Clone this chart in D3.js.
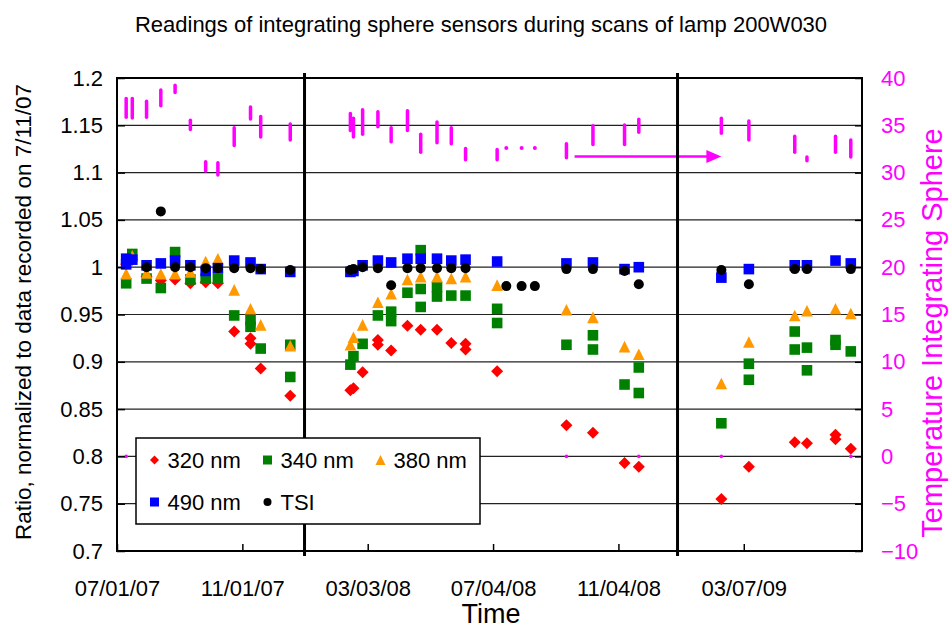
<!DOCTYPE html>
<html>
<head>
<meta charset="utf-8">
<script src="https://cdn.jsdelivr.net/npm/d3@7"></script>
<style>
  body { margin: 0; background: #fff; }
  svg { display: block; font-family: "Liberation Sans", Arial, sans-serif; }
</style>
</head>
<body>
<div id="chart"></div>
<script>
// --- data ---
const xTickLabels = ['07/01/07', '11/01/07', '03/03/08', '07/04/08', '11/04/08', '03/07/09'];
const yTicks = [0.7, 0.75, 0.8, 0.85, 0.9, 0.95, 1, 1.05, 1.1, 1.15, 1.2];
const tempTicks = [-10, -5, 0, 5, 10, 15, 20, 25, 30, 35, 40];
const lampBreaks = ['2008-01-01', '2009-01-01'];
const seriesNames = ['320 nm', '340 nm', '380 nm', '490 nm', 'TSI'];

const nm320 = [
  ['2007-07-10', 1.003], ['2007-07-16', 1.008], ['2007-07-30', 0.990], ['2007-08-13', 0.986],
  ['2007-08-27', 0.987], ['2007-09-11', 0.983], ['2007-09-26', 0.984], ['2007-10-08', 0.983],
  ['2007-10-24', 0.932], ['2007-11-09', 0.925], ['2007-11-09', 0.919], ['2007-11-19', 0.893],
  ['2007-12-18', 0.864],
  ['2008-02-15', 0.870], ['2008-02-18', 0.872], ['2008-02-27', 0.889], ['2008-03-13', 0.923],
  ['2008-03-13', 0.918], ['2008-03-26', 0.912], ['2008-04-11', 0.938], ['2008-04-24', 0.934],
  ['2008-05-10', 0.934], ['2008-05-24', 0.920], ['2008-06-07', 0.919], ['2008-06-07', 0.913],
  ['2008-07-08', 0.890], ['2008-09-14', 0.833], ['2008-10-10', 0.825], ['2008-11-10', 0.793],
  ['2008-11-24', 0.789],
  ['2009-02-13', 0.755], ['2009-03-12', 0.789], ['2009-04-26', 0.815], ['2009-05-08', 0.814],
  ['2009-06-05', 0.823], ['2009-06-05', 0.818], ['2009-06-20', 0.808],
];
const nm340 = [
  ['2007-07-10', 0.983], ['2007-07-16', 1.014], ['2007-07-30', 0.988], ['2007-08-13', 0.978],
  ['2007-08-27', 1.016], ['2007-09-11', 0.987], ['2007-09-26', 0.988], ['2007-10-08', 0.988],
  ['2007-10-24', 0.949], ['2007-11-09', 0.944], ['2007-11-09', 0.937], ['2007-11-19', 0.914],
  ['2007-12-18', 0.918], ['2007-12-18', 0.884],
  ['2008-02-15', 0.897], ['2008-02-18', 0.906], ['2008-02-27', 0.919], ['2008-03-13', 0.949],
  ['2008-03-26', 0.953], ['2008-03-26', 0.943], ['2008-04-11', 0.973], ['2008-04-24', 1.018],
  ['2008-04-24', 0.977], ['2008-04-24', 0.958], ['2008-05-10', 0.979], ['2008-05-10', 0.969],
  ['2008-05-24', 0.970], ['2008-06-07', 0.970], ['2008-07-08', 0.956], ['2008-07-08', 0.941],
  ['2008-09-14', 0.918], ['2008-10-10', 0.928], ['2008-10-10', 0.913], ['2008-11-10', 0.876],
  ['2008-11-24', 0.894], ['2008-11-24', 0.867],
  ['2009-02-13', 0.835], ['2009-03-12', 0.898], ['2009-03-12', 0.881], ['2009-04-26', 0.932],
  ['2009-04-26', 0.913], ['2009-05-08', 0.915], ['2009-05-08', 0.891], ['2009-06-05', 0.923],
  ['2009-06-05', 0.918], ['2009-06-20', 0.911],
];
const nm380 = [
  ['2007-07-10', 0.993], ['2007-07-16', 1.012], ['2007-07-30', 0.994], ['2007-08-13', 0.993],
  ['2007-08-27', 0.993], ['2007-09-11', 0.995], ['2007-09-26', 1.006], ['2007-10-08', 1.009],
  ['2007-10-24', 0.976], ['2007-11-09', 0.956], ['2007-11-19', 0.939], ['2007-12-18', 0.917],
  ['2008-02-15', 0.918], ['2008-02-18', 0.926], ['2008-02-27', 0.939], ['2008-03-13', 0.963],
  ['2008-03-26', 0.972], ['2008-04-11', 0.987], ['2008-04-24', 0.990], ['2008-05-10', 0.990],
  ['2008-05-24', 0.988], ['2008-06-07', 0.990], ['2008-07-08', 0.981], ['2008-09-14', 0.955],
  ['2008-10-10', 0.947], ['2008-11-10', 0.916], ['2008-11-24', 0.908],
  ['2009-02-13', 0.877], ['2009-03-12', 0.921], ['2009-04-26', 0.949], ['2009-05-08', 0.954],
  ['2009-06-05', 0.956], ['2009-06-20', 0.951],
];
const nm490 = [
  ['2007-07-10', 1.009], ['2007-07-10', 1.003], ['2007-07-16', 1.008], ['2007-07-30', 1.002],
  ['2007-08-13', 1.004], ['2007-08-27', 1.007], ['2007-09-11', 1.002], ['2007-09-26', 0.996],
  ['2007-10-08', 0.999], ['2007-10-24', 1.007], ['2007-11-09', 1.005], ['2007-11-19', 0.998],
  ['2007-12-18', 0.995],
  ['2008-02-15', 0.995], ['2008-02-18', 0.996], ['2008-02-27', 1.002], ['2008-03-13', 1.007],
  ['2008-03-26', 1.005], ['2008-04-11', 1.009], ['2008-04-24', 1.009], ['2008-05-10', 1.009],
  ['2008-05-24', 1.007], ['2008-06-07', 1.008], ['2008-07-08', 1.006], ['2008-09-14', 1.004],
  ['2008-10-10', 1.005], ['2008-11-10', 0.998], ['2008-11-24', 1.000],
  ['2009-02-13', 0.989], ['2009-03-12', 0.998], ['2009-04-26', 1.002], ['2009-05-08', 1.002],
  ['2009-06-05', 1.007], ['2009-06-20', 1.004],
];
const tsi = [
  ['2007-07-30', 1.000], ['2007-08-13', 1.059], ['2007-08-27', 1.000], ['2007-09-11', 1.000],
  ['2007-09-26', 0.999], ['2007-10-08', 0.999], ['2007-10-24', 0.999], ['2007-11-09', 0.999],
  ['2007-11-19', 0.998], ['2007-12-18', 0.997],
  ['2008-02-15', 0.997], ['2008-02-18', 0.998], ['2008-02-27', 1.000], ['2008-03-13', 0.999],
  ['2008-03-26', 0.981], ['2008-04-11', 0.999], ['2008-04-24', 0.999], ['2008-05-10', 0.999],
  ['2008-05-24', 0.999], ['2008-06-07', 0.999], ['2008-07-17', 0.980], ['2008-08-01', 0.980],
  ['2008-08-14', 0.980], ['2008-09-14', 0.998], ['2008-10-10', 0.998], ['2008-11-10', 0.996],
  ['2008-11-24', 0.982],
  ['2009-02-13', 0.997], ['2009-03-12', 0.982], ['2009-04-26', 0.998], ['2009-05-08', 0.998],
  ['2009-06-20', 0.998],
];
// sphere temperature during each scan: [date, min, max]
const sphereTemp = [
  ['2007-07-10', 35.7, 38.0], ['2007-07-16', 35.6, 38.0], ['2007-07-30', 35.7, 37.7],
  ['2007-08-13', 36.9, 38.9], ['2007-08-27', 38.3, 39.4], ['2007-09-11', 34.4, 35.7],
  ['2007-09-26', 30.0, 31.3], ['2007-10-08', 29.6, 31.2], ['2007-10-24', 32.7, 34.9],
  ['2007-11-09', 35.5, 37.1], ['2007-11-19', 33.6, 36.1], ['2007-12-18', 33.3, 35.3],
  ['2008-02-15', 34.3, 36.4], ['2008-02-18', 33.6, 35.9], ['2008-02-27', 33.9, 36.8],
  ['2008-03-13', 34.7, 36.6], ['2008-03-26', 33.1, 34.9], ['2008-04-11', 34.3, 36.7],
  ['2008-04-24', 32.0, 34.2], ['2008-05-10', 33.0, 35.5], ['2008-05-24', 32.9, 34.9],
  ['2008-06-07', 31.2, 32.7], ['2008-07-08', 31.2, 32.6], ['2008-07-17', 32.6, 32.6],
  ['2008-08-01', 32.6, 32.6], ['2008-08-14', 32.6, 32.6], ['2008-09-14', 31.4, 33.2],
  ['2008-10-10', 32.8, 35.1], ['2008-11-10', 32.8, 35.2], ['2008-11-24', 34.1, 35.8],
  ['2009-02-13', 34.0, 35.9], ['2009-03-12', 33.3, 35.6], ['2009-04-26', 32.0, 34.0],
  ['2009-05-08', 31.1, 31.8], ['2009-06-05', 32.0, 34.0], ['2009-06-20', 31.5, 33.6],
];
// scans where the temperature logger gave 0
const sphereTempZero = ['2007-07-10', '2008-09-14', '2008-11-24', '2009-02-13', '2009-06-20'];
// arrow drawn on the chart
const arrowNote = { from: '2008-09-22', to: '2009-02-13', temp: 31.7 };

// --- layout ---
const width = 950;
const height = 629;
const margin = { top: 78, right: 88, bottom: 78, left: 117 };
const parseDay = d3.timeParse('%Y-%m-%d');
const parseTick = d3.timeParse('%m/%d/%y');
const font = '"Liberation Sans", Arial, sans-serif';

const x = d3.scaleTime()
  .domain([parseDay('2007-07-01'), parseDay('2009-07-01')])
  .range([margin.left, width - margin.right]);
const y = d3.scaleLinear().domain([0.7, 1.2]).range([height - margin.bottom, margin.top]);
const yT = d3.scaleLinear().domain([-10, 40]).range([height - margin.bottom, margin.top]);

const svg = d3.select('#chart').append('svg')
  .attr('width', width)
  .attr('height', height)
  .attr('viewBox', [0, 0, width, height]);

// gridlines
svg.append('g')
  .selectAll('line')
  .data(yTicks.slice(1, -1))
  .join('line')
  .attr('x1', margin.left)
  .attr('x2', width - margin.right)
  .attr('y1', (d) => y(d))
  .attr('y2', (d) => y(d))
  .attr('stroke', '#222')
  .attr('stroke-width', 1.2);

// marker shapes
const shapes = {
  diamond: (s) => `M0,${-s}L${s},0L0,${s}L${-s},0Z`,
  square: (s) => `M${-s},${-s}H${s}V${s}H${-s}Z`,
  triangle: (s) => `M0,${-s}L${s},${s}H${-s}Z`,
  circle: (s) => `M${-s},0A${s},${s} 0 1,0 ${s},0A${s},${s} 0 1,0 ${-s},0Z`,
};
const styles = [
  { data: nm320, shape: 'diamond', color: '#FF0000', size: 6 },
  { data: nm340, shape: 'square', color: '#008000', size: 5.3 },
  { data: nm380, shape: 'triangle', color: '#FF9900', size: 5.8 },
  { data: nm490, shape: 'square', color: '#0000FF', size: 5.3 },
  { data: tsi, shape: 'circle', color: '#000000', size: 5 },
];

styles.forEach((s) => {
  svg.append('g')
    .selectAll('path')
    .data(s.data)
    .join('path')
    .attr('d', shapes[s.shape](s.size))
    .attr('transform', (d) => `translate(${x(parseDay(d[0]))},${y(d[1])})`)
    .attr('fill', s.color);
});

// sphere temperature (secondary axis)
const tempG = svg.append('g');
tempG.selectAll('line')
  .data(sphereTemp.filter((d) => d[1] !== d[2]))
  .join('line')
  .attr('x1', (d) => x(parseDay(d[0])))
  .attr('x2', (d) => x(parseDay(d[0])))
  .attr('y1', (d) => yT(d[1]) - 1.5)
  .attr('y2', (d) => yT(d[2]) + 1.5)
  .attr('stroke', '#FF00FF')
  .attr('stroke-width', 3.5)
  .attr('stroke-linecap', 'round');
tempG.selectAll('circle.single')
  .data(sphereTemp.filter((d) => d[1] === d[2]))
  .join('circle')
  .attr('class', 'single')
  .attr('cx', (d) => x(parseDay(d[0])))
  .attr('cy', (d) => yT(d[1]))
  .attr('r', 2)
  .attr('fill', '#FF00FF');
tempG.selectAll('circle.zero')
  .data(sphereTempZero)
  .join('circle')
  .attr('class', 'zero')
  .attr('cx', (d) => x(parseDay(d)))
  .attr('cy', yT(0))
  .attr('r', 1.8)
  .attr('fill', '#FF00FF');

// arrow
const ax0 = x(parseDay(arrowNote.from));
const ax1 = x(parseDay(arrowNote.to));
const ay = yT(arrowNote.temp);
svg.append('line')
  .attr('x1', ax0).attr('x2', ax1 - 14)
  .attr('y1', ay).attr('y2', ay)
  .attr('stroke', '#FF00FF')
  .attr('stroke-width', 2.5);
svg.append('path')
  .attr('d', `M${ax1},${ay}L${ax1 - 15},${ay - 6.5}L${ax1 - 15},${ay + 6.5}Z`)
  .attr('fill', '#FF00FF');

// lamp change lines
svg.append('g')
  .selectAll('line')
  .data(lampBreaks)
  .join('line')
  .attr('x1', (d) => x(parseDay(d)))
  .attr('x2', (d) => x(parseDay(d)))
  .attr('y1', margin.top - 5)
  .attr('y2', height - margin.bottom + 5)
  .attr('stroke', '#000')
  .attr('stroke-width', 3);

// axes
const fmt = d3.format('~g');
const left = svg.append('g')
  .attr('transform', `translate(${margin.left},0)`)
  .call(d3.axisLeft(y).tickValues(yTicks).tickFormat(fmt).tickSize(-8).tickPadding(14));
const right = svg.append('g')
  .attr('transform', `translate(${width - margin.right},0)`)
  .call(d3.axisRight(yT).tickValues(tempTicks).tickSize(-7).tickPadding(19));
const bottom = svg.append('g')
  .attr('transform', `translate(0,${height - margin.bottom})`)
  .call(d3.axisBottom(x)
    .tickValues(xTickLabels.map(parseTick))
    .tickFormat(d3.timeFormat('%m/%d/%y'))
    .tickSize(-7)
    .tickPadding(29));

[left, right, bottom].forEach((g) => {
  g.select('.domain').remove();
  g.selectAll('.tick line').attr('stroke', '#000').attr('stroke-width', 1.5);
  g.selectAll('.tick text')
    .attr('font-family', font)
    .attr('font-size', 22)
    .attr('fill', '#000');
});
right.selectAll('.tick text').attr('fill', '#FF00FF');

// plot frame
svg.append('rect')
  .attr('x', margin.left)
  .attr('y', margin.top)
  .attr('width', width - margin.left - margin.right)
  .attr('height', height - margin.top - margin.bottom)
  .attr('fill', 'none')
  .attr('stroke', '#000')
  .attr('stroke-width', 2);

// legend
const legend = svg.append('g').attr('transform', 'translate(136,438)');
legend.append('rect')
  .attr('width', 344)
  .attr('height', 86)
  .attr('fill', '#fff')
  .attr('stroke', '#000')
  .attr('stroke-width', 1.5);
const legendMarkerSize = [4.5, 4.5, 5, 4.5, 4];
seriesNames.forEach((name, i) => {
  const col = i < 3 ? i : i - 3;
  const row = i < 3 ? 0 : 1;
  const item = legend.append('g')
    .attr('transform', `translate(${18.5 + col * 113},${22 + row * 42})`);
  item.append('path')
    .attr('d', shapes[styles[i].shape](legendMarkerSize[i]))
    .attr('fill', styles[i].color);
  item.append('text')
    .attr('x', 13)
    .attr('dy', '0.35em')
    .attr('font-family', font)
    .attr('font-size', 22)
    .text(name);
});

// titles
svg.append('text')
  .attr('x', 481)
  .attr('y', 32)
  .attr('text-anchor', 'middle')
  .attr('font-family', font)
  .attr('font-size', 22)
  .text('Readings of integrating sphere sensors during scans of lamp 200W030');

svg.append('text')
  .attr('transform', 'translate(31,312) rotate(-90)')
  .attr('text-anchor', 'middle')
  .attr('font-family', font)
  .attr('font-size', 22.5)
  .text('Ratio, normalized to data recorded on 7/11/07');

svg.append('text')
  .attr('transform', 'translate(942,333) rotate(-90)')
  .attr('text-anchor', 'middle')
  .attr('font-family', font)
  .attr('font-size', 29)
  .attr('fill', '#FF00FF')
  .text('Temperature Integrating Sphere');

svg.append('text')
  .attr('x', 491)
  .attr('y', 623)
  .attr('text-anchor', 'middle')
  .attr('font-family', font)
  .attr('font-size', 27)
  .text('Time');
</script>
</body>
</html>
